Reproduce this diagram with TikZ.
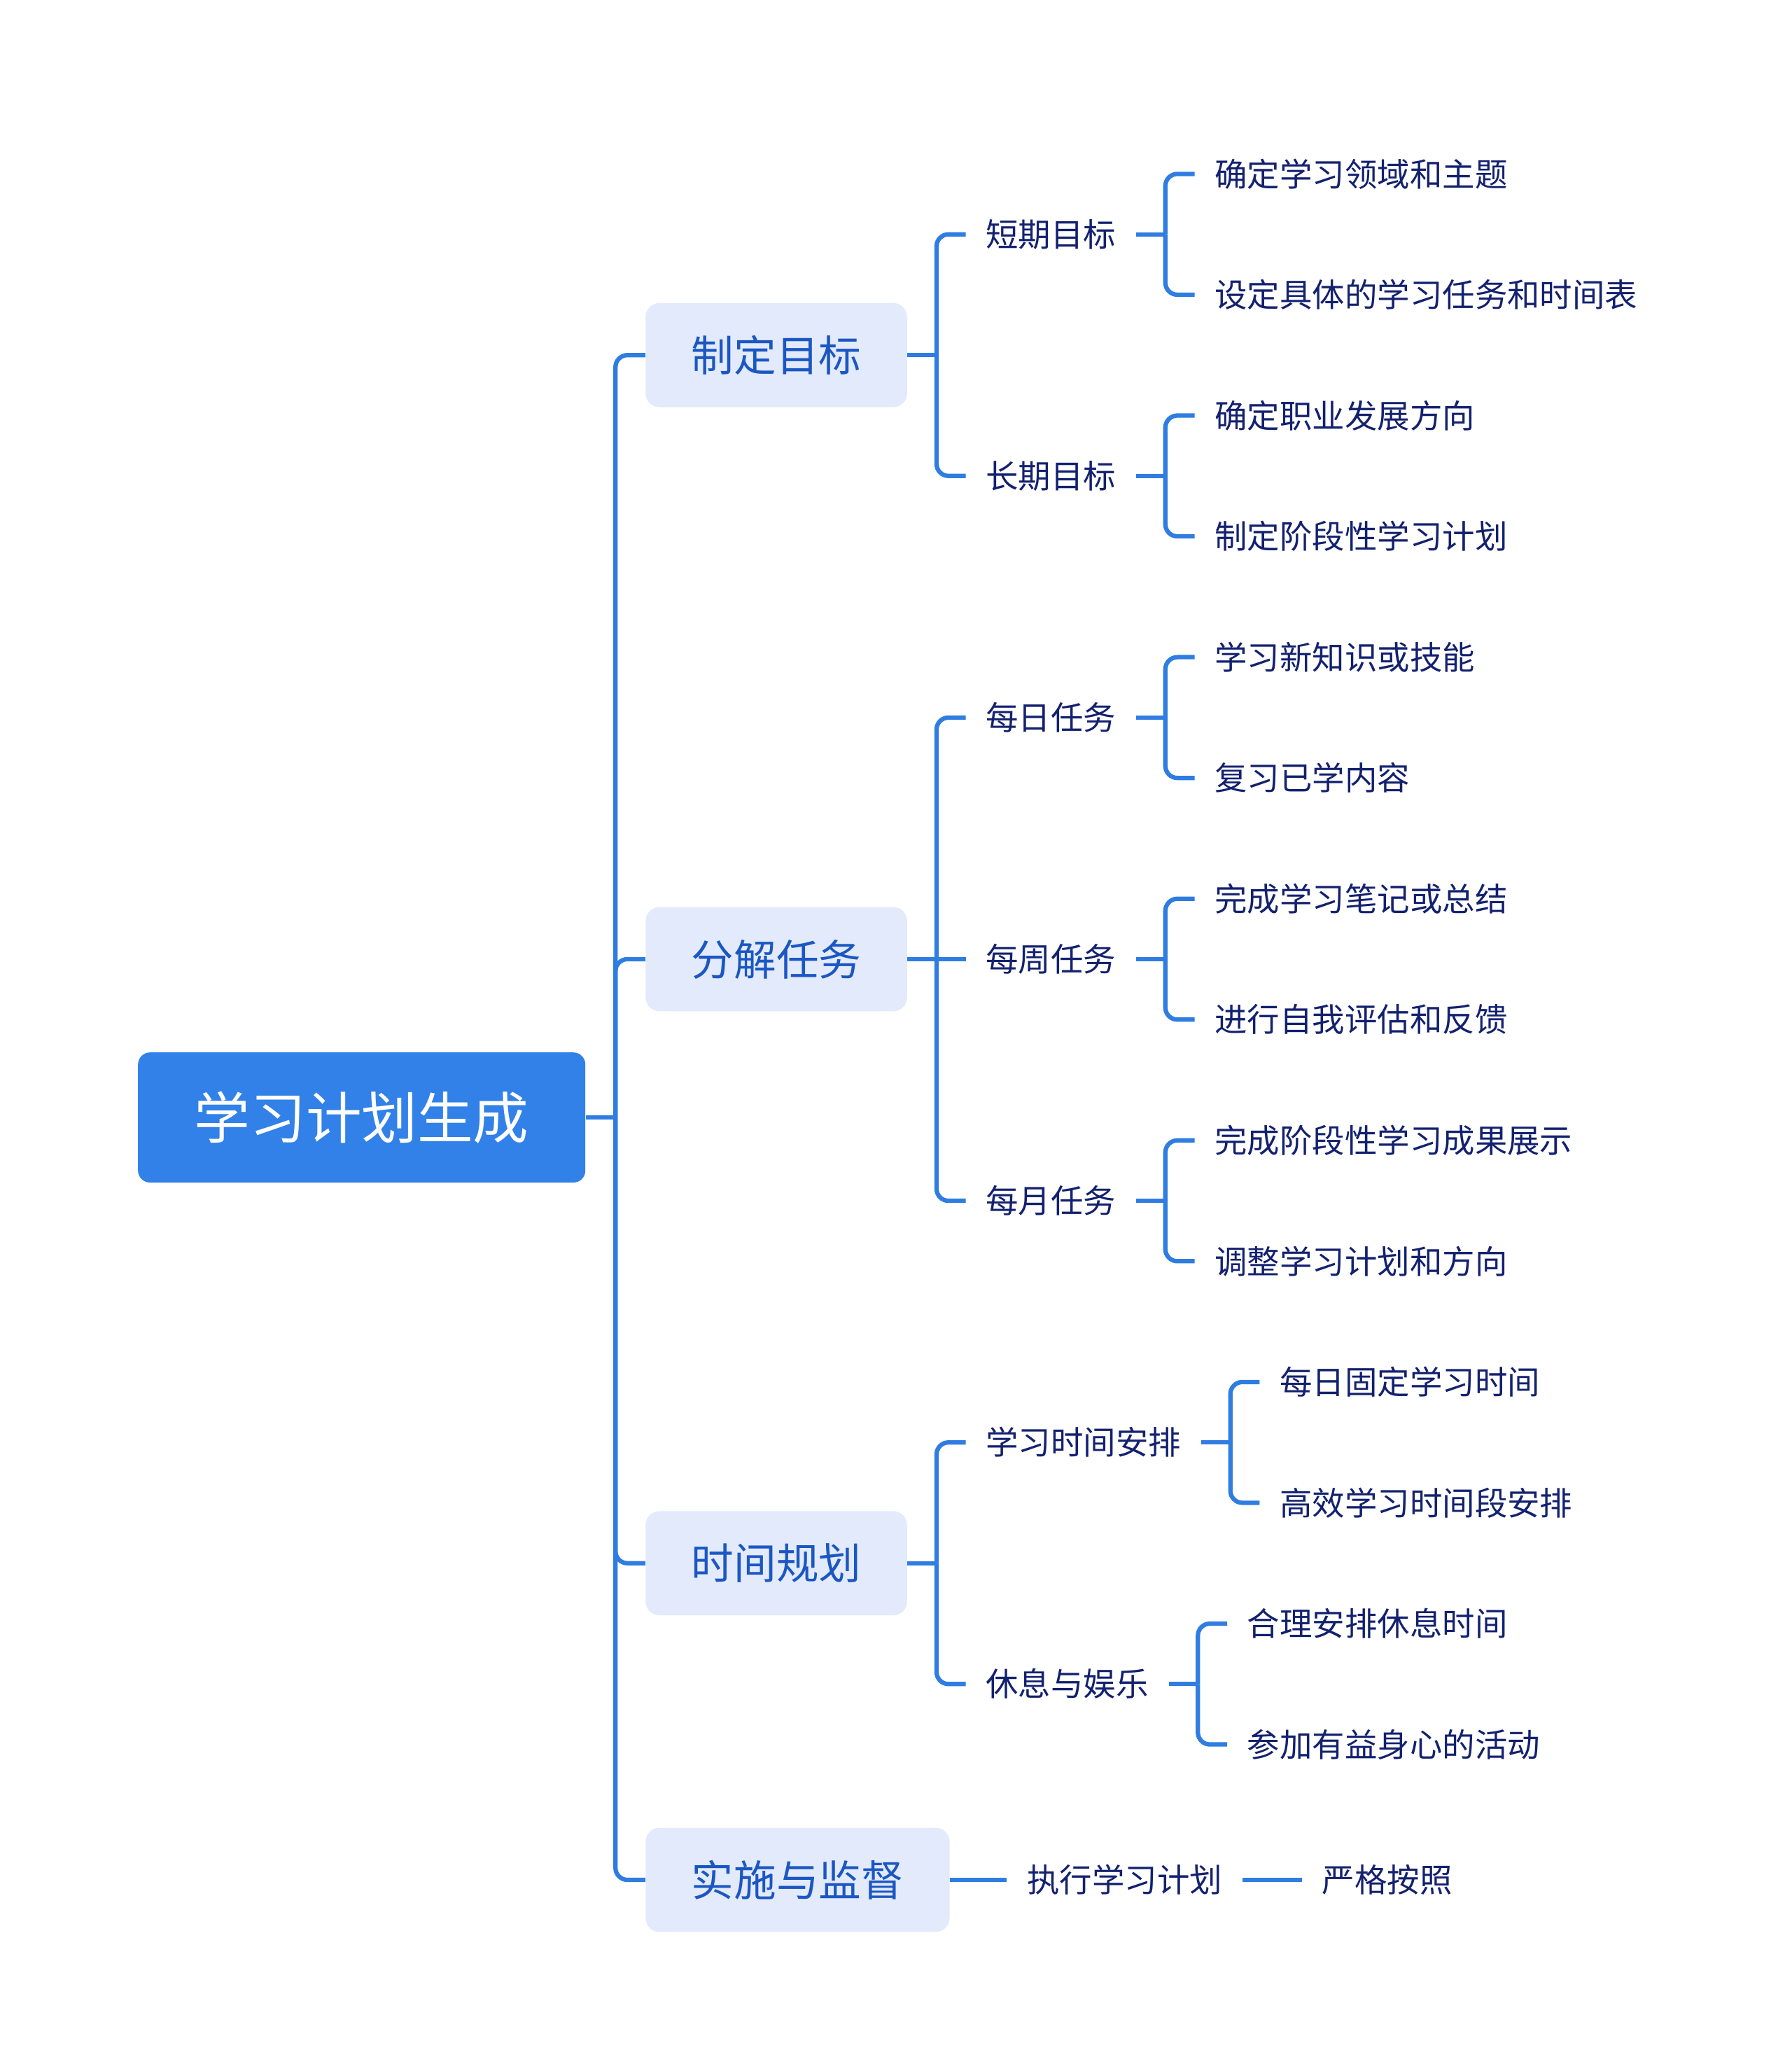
\documentclass[tikz,border=0pt]{standalone}
\usepackage{fontspec}
\setmainfont{Noto Sans CJK SC}
\usetikzlibrary{positioning}
\definecolor{linea}{HTML}{2F7DE1}
\definecolor{radicefill}{HTML}{3181E8}
\definecolor{temafill}{HTML}{E2EAFC}
\definecolor{tematesto}{HTML}{1B57C2}
\definecolor{vocetesto}{HTML}{13216F}

\begin{document}
\begin{tikzpicture}[x=1pt,y=1pt,
    ramo/.style={draw=linea,line width=3.3pt,rounded corners=9pt},
    radice/.style={fill=radicefill,text=white,rounded corners=9pt,
      font=\fontsize{42}{50}\selectfont,minimum width=337pt,minimum height=98pt,
      text height=34.9pt,text depth=2.9pt},
    tema/.style={fill=temafill,text=tematesto,rounded corners=10.5pt,
      font=\fontsize{32}{38}\selectfont,inner xsep=34.5pt,minimum height=78.5pt,
      text height=26.6pt,text depth=2.2pt},
    voce/.style={text=vocetesto,font=\fontsize{24.5}{30}\selectfont,
      inner xsep=15pt,inner ysep=0pt,text height=20.3pt,text depth=1.7pt}]
    \useasboundingbox (0,0) rectangle (1350,-1560);
    \node [radice] (R) at (272.5,-841.75) {学习计划生成}; % radice
    % rami principali
    \node [tema,right=45pt of R,yshift=574.25pt] (A) {制定目标};
    \node [tema,right=45pt of R,yshift=119.25pt] (B) {分解任务};
    \node [tema,right=45pt of R,yshift=-335.75pt] (C) {时间规划};
    \node [tema,right=45pt of R,yshift=-574.25pt] (D) {实施与监督};
    % secondo livello
    \node [voce,right=44pt of A,yshift=91pt] (A1) {短期目标};
    \node [voce,right=44pt of A,yshift=-91pt] (A2) {长期目标};
    \node [voce,right=44pt of B,yshift=182pt] (B1) {每日任务};
    \node [voce,right=44pt of B] (B2) {每周任务};
    \node [voce,right=44pt of B,yshift=-182pt] (B3) {每月任务};
    \node [voce,right=44pt of C,yshift=91pt] (C1) {学习时间安排};
    \node [voce,right=44pt of C,yshift=-91pt] (C2) {休息与娱乐};
    \node [voce,right=43pt of D] (D1) {执行学习计划};
    % foglie
    \node [voce,right=44pt of A1,yshift=45.5pt] (A11) {确定学习领域和主题};
    \node [voce,right=44pt of A1,yshift=-45.5pt] (A12) {设定具体的学习任务和时间表};
    \node [voce,right=44pt of A2,yshift=45.5pt] (A21) {确定职业发展方向};
    \node [voce,right=44pt of A2,yshift=-45.5pt] (A22) {制定阶段性学习计划};
    \node [voce,right=44pt of B1,yshift=45.5pt] (B11) {学习新知识或技能};
    \node [voce,right=44pt of B1,yshift=-45.5pt] (B12) {复习已学内容};
    \node [voce,right=44pt of B2,yshift=45.5pt] (B21) {完成学习笔记或总结};
    \node [voce,right=44pt of B2,yshift=-45.5pt] (B22) {进行自我评估和反馈};
    \node [voce,right=44pt of B3,yshift=45.5pt] (B31) {完成阶段性学习成果展示};
    \node [voce,right=44pt of B3,yshift=-45.5pt] (B32) {调整学习计划和方向};
    \node [voce,right=44pt of C1,yshift=45.5pt] (C11) {每日固定学习时间};
    \node [voce,right=44pt of C1,yshift=-45.5pt] (C12) {高效学习时间段安排};
    \node [voce,right=44pt of C2,yshift=45.5pt] (C21) {合理安排休息时间};
    \node [voce,right=44pt of C2,yshift=-45.5pt] (C22) {参加有益身心的活动};
    \node [voce,right=45pt of D1] (D11) {严格按照};
    % connettori
    \coordinate (jR) at ([xshift=22.5pt]R.east);
    \draw [ramo] (R.east) -- (jR);
    \foreach \t in {A,B,C,D}
      \draw [ramo] (jR) |- (\t.west);
    \foreach \p/\a/\b in {A/A1/A2,C/C1/C2,A1/A11/A12,A2/A21/A22,B1/B11/B12,
        B2/B21/B22,B3/B31/B32,C1/C11/C12,C2/C21/C22,B/B1/B3} {
      \coordinate (j\p) at ([xshift=22pt]\p.east);
      \draw [ramo] (\p.east) -- (j\p);
      \draw [ramo] (j\p) |- (\a.west);
      \draw [ramo] (j\p) |- (\b.west);
    }
    \draw [ramo] (jB) -- (B2.west);
    \draw [ramo] (D.east) -- (D1.west);
    \draw [ramo] (D1.east) -- (D11.west);
  \end{tikzpicture}
\end{document}
